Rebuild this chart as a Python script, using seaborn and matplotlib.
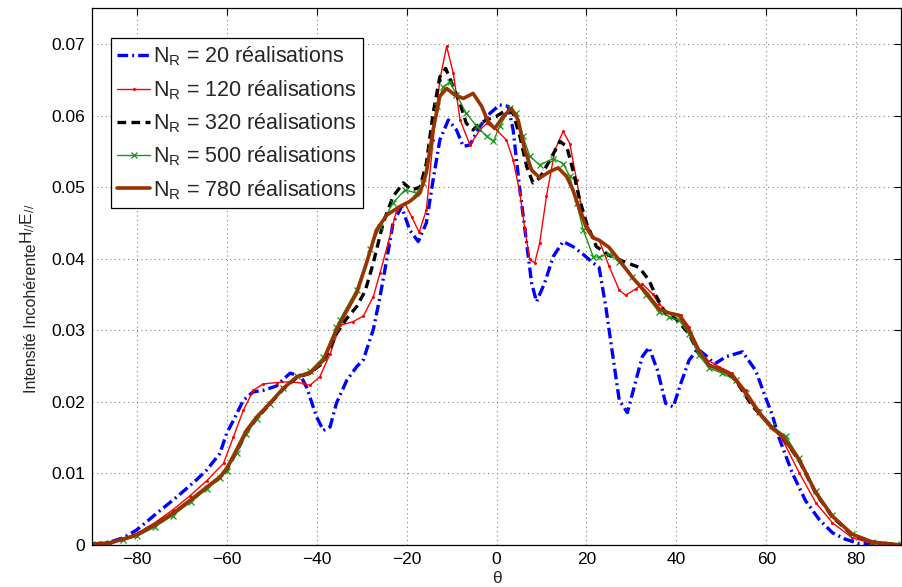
import matplotlib
matplotlib.use("Agg")
import matplotlib.pyplot as plt
import seaborn as sns
import numpy as np
from matplotlib.ticker import FuncFormatter

# ---------------- data ----------------
theta_20 = [-90, -86, -83, -80, -75.6, -71.1, -66.7, -64.4, -61.5, -60, -58.5, -56.3, -54.1, -51.9, -49, -45.9,
            -43.5, -42.2, -40, -38.5, -37, -35.6, -33.3, -31.1, -29.6, -27.4, -25.9, -24.4, -23, -21.1, -19.3,
            -17.4, -15.6, -14.1, -12.6, -10.7, -8.9, -7.4, -5.9, -3.7, -1.5, 0.7, 2.6, 3.7, 5.2, 6.7, 7.8, 8.9,
            10.7, 12.6, 14.8, 17, 19.3, 21.5, 22.8, 24.3, 25.8, 27.3, 29.1, 31, 32.4, 33.9, 35.8, 37.6, 39.3,
            41, 42.8, 44.7, 46.5, 48.5, 51, 54.7, 57.6, 59.9, 61.3, 62.8, 65.8, 68.7, 71.7, 74.7, 77.6, 80.6,
            85, 90]
I_20 = [0.0001, 0.0004, 0.0010, 0.0021, 0.0044, 0.0067, 0.0091, 0.0105, 0.0128, 0.0156, 0.0174, 0.0202,
        0.0214, 0.0216, 0.0222, 0.0240, 0.0236, 0.0220, 0.0179, 0.0160, 0.0165, 0.0198, 0.0230, 0.0249,
        0.0259, 0.0301, 0.0347, 0.0399, 0.0450, 0.0473, 0.0440, 0.0424, 0.0450, 0.0510, 0.0566, 0.0594,
        0.0580, 0.0557, 0.0559, 0.0585, 0.0603, 0.0615, 0.0613, 0.0580, 0.0496, 0.0422, 0.0366, 0.0340,
        0.0366, 0.0403, 0.0424, 0.0417, 0.0406, 0.0394, 0.0388, 0.0333, 0.0267, 0.0202, 0.0185, 0.0230,
        0.0263, 0.0276, 0.0244, 0.0198, 0.0193, 0.0226, 0.0258, 0.0274, 0.0265, 0.0253, 0.0263, 0.0270,
        0.0244, 0.0205, 0.0182, 0.0150, 0.0100, 0.0062, 0.0036, 0.0017, 0.0008, 0.0002, 0.0001, 0.0]

theta_120 = [-90, -86, -83, -80, -76, -72, -68.1, -64.4, -60.7, -58.5, -56.3, -54.1, -51.9, -48.9, -46, -43,
             -41.5, -39.3, -37, -34.8, -31.9, -29.6, -27.4, -25.9, -24.1, -22.2, -20.4, -18.9, -17.2, -15.6,
             -14.1, -12.6, -11.1, -9.6, -8.1, -5.9, -3.7, -2.2, 0, 2.2, 3.7, 5.2, 6.3, 7.4, 8.5, 9.6, 11.1, 13,
             14.8, 16.3, 17.8, 19.3, 21.5, 22.8, 25, 27.3, 28.7, 31, 32.4, 34.7, 36.1, 37.9, 41, 42.8, 45,
             46.5, 49.5, 52.4, 55.4, 58.4, 61.3, 63.6, 67.3, 71, 74.7, 79.1, 83.6, 90]
I_120 = [0.0001, 0.0004, 0.0009, 0.0016, 0.0031, 0.0049, 0.0069, 0.0090, 0.0114, 0.0151, 0.0188, 0.0216,
         0.0225, 0.0227, 0.0228, 0.0226, 0.0223, 0.0235, 0.0267, 0.0307, 0.0312, 0.0320, 0.0347, 0.0380,
         0.0422, 0.0468, 0.0478, 0.0459, 0.0437, 0.0468, 0.0566, 0.0650, 0.0697, 0.0659, 0.0594, 0.0559,
         0.0580, 0.0589, 0.0580, 0.0566, 0.0538, 0.0492, 0.0441, 0.0399, 0.0394, 0.0422, 0.0487, 0.0552,
         0.0578, 0.0561, 0.0510, 0.0459, 0.0431, 0.0426, 0.0390, 0.0356, 0.0349, 0.0358, 0.0365, 0.0351,
         0.0337, 0.0326, 0.0321, 0.0305, 0.0272, 0.0260, 0.0249, 0.0240, 0.0216, 0.0188, 0.0165, 0.0147,
         0.0101, 0.0059, 0.0031, 0.0010, 0.0002, 0.0]

theta_320 = [-90, -86, -83, -80, -76, -72, -68, -64.4, -61.5, -60, -57.8, -55.6, -53.3, -50.4, -47.4, -44.4,
             -41.5, -38.5, -35.6, -33.5, -31.1, -29.2, -27.4, -25.2, -23, -20.7, -18.9, -17, -15.6, -14.1,
             -12.6, -11.3, -9.6, -8.1, -6.7, -5.2, -3.7, -2.2, 0, 2.2, 3.7, 5.2, 6.7, 8.1, 9.6, 11.9, 14.1,
             15.6, 17, 18.5, 20, 22.2, 25, 28.7, 31.7, 33.9, 35.4, 37.6, 39.9, 42.8, 45, 47.3, 51, 53.2, 56.9,
             59.9, 63.6, 67.3, 71, 74.7, 79.1, 83.6, 90]
I_320 = [0.0001, 0.0003, 0.0008, 0.0014, 0.0028, 0.0044, 0.0062, 0.0080, 0.0094, 0.0105, 0.0130, 0.0157,
         0.0177, 0.0197, 0.0218, 0.0234, 0.0240, 0.0255, 0.0295, 0.0315, 0.0333, 0.0355, 0.0394, 0.0450,
         0.0487, 0.0506, 0.0496, 0.0500, 0.0533, 0.0603, 0.0654, 0.0666, 0.0640, 0.0617, 0.0589, 0.0580,
         0.0589, 0.0594, 0.0599, 0.0608, 0.0603, 0.0571, 0.0529, 0.0506, 0.0513, 0.0538, 0.0564, 0.0557,
         0.0524, 0.0482, 0.0450, 0.0417, 0.0405, 0.0395, 0.0388, 0.0370, 0.0349, 0.0323, 0.0316, 0.0295,
         0.0267, 0.0251, 0.0242, 0.0230, 0.0194, 0.0174, 0.0151, 0.0118, 0.0072, 0.0039, 0.0014, 0.0004, 0.0]

theta_500 = [-90, -86, -83, -80, -76, -72, -68, -64.4, -61.5, -60, -57.8, -55.6, -53.3, -50.4, -47.4, -44.4,
             -41.5, -38.5, -35.6, -34.8, -31.1, -28.1, -25.9, -23, -20.4, -17.8, -16.3, -14.8, -13.3, -11.9,
             -10.4, -8.9, -6.7, -4.4, -2.2, -0.7, 0.7, 3, 4.4, 5.9, 7.4, 9.6, 12.6, 14.8, 16.3, 17.8, 19.3,
             21.5, 22.8, 25, 27.3, 30.2, 33.2, 36.1, 38.4, 40.6, 42.8, 45, 47.3, 50.2, 53.2, 55.4, 58.4, 61.3,
             64.3, 67.3, 71, 74.7, 79.1, 83.6, 90]
I_500 = [0.0001, 0.0003, 0.0007, 0.0012, 0.0025, 0.0041, 0.0060, 0.0078, 0.0093, 0.0104, 0.0128, 0.0155,
         0.0176, 0.0197, 0.0219, 0.0236, 0.0243, 0.0262, 0.0305, 0.0315, 0.0357, 0.0413, 0.0445, 0.0478,
         0.0496, 0.0492, 0.0506, 0.0557, 0.0613, 0.0640, 0.0647, 0.0629, 0.0603, 0.0585, 0.0571, 0.0564,
         0.0585, 0.0610, 0.0603, 0.0571, 0.0543, 0.0531, 0.0540, 0.0533, 0.0515, 0.0478, 0.0440, 0.0403,
         0.0402, 0.0407, 0.0395, 0.0374, 0.0349, 0.0326, 0.0319, 0.0314, 0.0295, 0.0265, 0.0247, 0.0240,
         0.0230, 0.0212, 0.0186, 0.0166, 0.0152, 0.0122, 0.0076, 0.0042, 0.0016, 0.0004, 0.0001]

theta_780 = [-90, -86, -83, -80, -76, -72, -68, -64.4, -61.5, -60, -57.8, -55.6, -53.3, -50.4, -47.4, -44.4,
             -41.5, -38.5, -35.6, -33.5, -31.1, -28.9, -26.7, -24.4, -21.5, -19.3, -17, -15.6, -14.1, -12.6,
             -11.1, -9.3, -7.4, -5.2, -3.3, -1.9, -0.4, 1.5, 3.3, 4.8, 6.3, 7.8, 9.6, 11.9, 13.7, 15.6, 17,
             18.5, 20, 21.5, 22.8, 25, 27.3, 30.2, 33.2, 36.1, 38.4, 40.6, 42.8, 45, 47.3, 50.2, 52.4, 55.4,
             58.4, 61.3, 63.6, 67.3, 71, 74.7, 79.1, 83.6, 90]
I_780 = [0.0001, 0.0003, 0.0008, 0.0014, 0.0028, 0.0044, 0.0063, 0.0081, 0.0095, 0.0107, 0.0133, 0.0160,
         0.0179, 0.0198, 0.0219, 0.0235, 0.0240, 0.0258, 0.0300, 0.0325, 0.0352, 0.0394, 0.0440, 0.0461,
         0.0473, 0.0480, 0.0492, 0.0520, 0.0580, 0.0627, 0.0638, 0.0629, 0.0624, 0.0631, 0.0613, 0.0592,
         0.0582, 0.0599, 0.0610, 0.0594, 0.0552, 0.0524, 0.0513, 0.0522, 0.0527, 0.0515, 0.0496, 0.0468,
         0.0443, 0.0429, 0.0426, 0.0416, 0.0398, 0.0374, 0.0353, 0.0330, 0.0324, 0.0321, 0.0300, 0.0272,
         0.0251, 0.0244, 0.0237, 0.0212, 0.0184, 0.0163, 0.0152, 0.0119, 0.0073, 0.0040, 0.0015, 0.0004, 0.0]

labels = [r"$\mathregular{N_R}$ = 20 réalisations",
          r"$\mathregular{N_R}$ = 120 réalisations",
          r"$\mathregular{N_R}$ = 320 réalisations",
          r"$\mathregular{N_R}$ = 500 réalisations",
          r"$\mathregular{N_R}$ = 780 réalisations"]
x_ticks = [-80, -60, -40, -20, 0, 20, 40, 60, 80]
y_ticks = [0, 0.01, 0.02, 0.03, 0.04, 0.05, 0.06, 0.07]
ylabel_main = "Intensité Incohérente"
ylabel_sup = r"$\mathregular{H_{//}E_{//}}$"
xlabel = "θ"

# ---------------- style ----------------
sns.set_theme(style="white")
plt.rcParams["font.family"] = ["Liberation Sans", "DejaVu Sans"]
plt.rcParams["mathtext.fontset"] = "custom"
plt.rcParams["mathtext.rm"] = "Liberation Sans"
plt.rcParams["mathtext.it"] = "Liberation Sans:italic"
plt.rcParams["axes.unicode_minus"] = True

fig = plt.figure(figsize=(9.02, 5.87), dpi=100)
ax = fig.add_axes([0.1017, 0.0716, 0.8975, 0.9143])

styles = [
    dict(color="#0000ff", lw=2.4, linestyle=(0, (3.2, 1.2, 0.6, 1.2))),
    dict(color="#ff0000", lw=1.0, linestyle="-"),
    dict(color="#000000", lw=2.4, linestyle=(0, (2.6, 1.6))),
    dict(color="#1a961a", lw=1.0, linestyle="-"),
    dict(color="#993300", lw=2.6, linestyle="-"),
]
markers = [None,
           dict(marker="o", markersize=2.2, markeredgewidth=0, markerfacecolor="#ff0000"),
           None,
           dict(marker="x", markersize=4.5, markeredgewidth=0.9, markeredgecolor="#1a961a"),
           None]
data = [(theta_20, I_20), (theta_120, I_120), (theta_320, I_320), (theta_500, I_500), (theta_780, I_780)]

handles = []
for (tx, ty), st, mk, lab in zip(data, styles, markers, labels):
    n0 = len(ax.lines)
    sns.lineplot(x=tx, y=ty, ax=ax, sort=False, estimator=None, legend=False, **st)
    line = ax.lines[n0]
    if mk is not None:
        line.set_marker(mk["marker"])
        line.set_markersize(mk["markersize"])
        line.set_markeredgewidth(mk["markeredgewidth"])
        if "markerfacecolor" in mk:
            line.set_markerfacecolor(mk["markerfacecolor"])
            line.set_markeredgecolor(mk["markerfacecolor"])
        if "markeredgecolor" in mk:
            line.set_markeredgecolor(mk["markeredgecolor"])
    line.set_label(lab)
    handles.append(line)

ax.set_xlim(-90, 90)
ax.set_ylim(0, 0.075)
ax.set_xticks(x_ticks)
ax.set_yticks(y_ticks)
ax.yaxis.set_major_formatter(FuncFormatter(lambda v, p: "0" if v == 0 else f"{v:.2f}"))
ax.tick_params(direction="in", length=5, width=0.8, top=True, right=True, labelsize=12.5,
               colors="black", pad=5)
ax.grid(True, linestyle=(0, (1, 3)), color="#808080", linewidth=0.8)
for s in ax.spines.values():
    s.set_color("black")
    s.set_linewidth(0.9)

ax.set_xlabel(xlabel, fontsize=12.5, labelpad=3)

# y label: main part + raised part
fig.text(32 / 902, (587 - 393) / 587, ylabel_main, rotation=90, ha="center", va="bottom",
         fontsize=11.5)
fig.text(28 / 902, (587 - 244) / 587, ylabel_sup, rotation=90, ha="center", va="bottom",
         fontsize=12.5)

leg = ax.legend(handles=handles, loc="upper left", bbox_to_anchor=(0.0238, 0.944), borderaxespad=0,
                fontsize=15.5, frameon=True, fancybox=False, handlelength=1.5, handletextpad=0.15,
                labelspacing=0.45, borderpad=0.3)
leg.get_frame().set_edgecolor("black")
leg.get_frame().set_linewidth(0.9)
leg.get_frame().set_alpha(1)

fig.savefig("out.png", dpi=100)
